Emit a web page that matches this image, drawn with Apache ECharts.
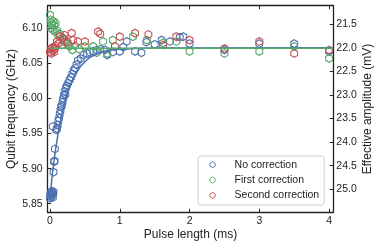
<!DOCTYPE html>
<html><head><meta charset="utf-8">
<script src="https://cdn.jsdelivr.net/npm/echarts@6/dist/echarts.min.js"></script>
<style>html,body{margin:0;padding:0;background:#fff}#c{width:381px;height:248px}</style>
</head><body><div id="c"></div>
<script>
var seriesNames = ['No correction', 'First correction', 'Second correction'];
var xTicks = [0, 1, 2, 3, 4];
var yTicks = [5.85, 5.90, 5.95, 6.00, 6.05, 6.10];
var y2Ticks = [21.5, 22.0, 22.5, 23.0, 23.5, 24.0, 24.5, 25.0];

var noCorrection = [[0.0,5.858],[0.005,5.862],[0.01,5.866],[0.015,5.860],[0.02,5.864],[0.025,5.868],[0.03,5.862],[0.035,5.866],[0.04,5.859],[0.045,5.864],[0.05,5.867],
[0.05,5.895],[0.06,5.91],[0.065,5.911],[0.07,5.928],[0.04,5.96],[0.09,5.955],[0.1,5.957],[0.11,5.962],[0.12,5.968],[0.13,5.972],[0.14,5.978],[0.15,5.983],[0.16,5.988],[0.17,5.99],[0.18,5.995],[0.19,6.0],[0.2,6.004],[0.21,6.01],[0.22,6.006],[0.23,6.015],[0.24,6.018],[0.26,6.022],[0.28,6.026],[0.3,6.03],[0.32,6.035],[0.34,6.04],[0.36,6.043],[0.38,6.048],[0.4,6.054],[0.44,6.057],[0.48,6.062],[0.53,6.064],[0.57,6.066],[0.62,6.067],[0.67,6.069],[0.72,6.07],[0.79,6.069],[0.82,6.062],[0.9,6.066],[1.0,6.067],[1.05,6.073],[1.1,6.081],[1.22,6.067],[1.31,6.065],[1.38,6.08],[1.5,6.077],[1.6,6.083],[1.72,6.081],[1.86,6.087],[1.91,6.088],[2.0,6.078],[2.5,6.069],[3.0,6.078],[3.5,6.078],[4.0,6.067]];
var firstCorrection = [[0.0,6.119],[0.01,6.112],[0.02,6.108],[0.02,6.100],[0.03,6.105],[0.04,6.098],[0.05,6.110],[0.06,6.104],[0.07,6.095],[0.08,6.107],[0.1,6.097],[0.12,6.09],[0.14,6.092],[0.17,6.086],[0.2,6.083],[0.22,6.08],[0.25,6.078],[0.28,6.074],[0.32,6.069],[0.36,6.075],[0.42,6.07],[0.5,6.074],[0.62,6.074],[0.67,6.065],[0.76,6.081],[0.82,6.064],[0.9,6.083],[1.19,6.088],[1.39,6.083],[1.62,6.079],[1.81,6.081],[2.0,6.067],[2.5,6.064],[3.0,6.067],[3.5,6.074],[4.0,6.057]];
var secondCorrection = [[0.0,6.066],[0.01,6.07],[0.02,6.064],[0.03,6.072],[0.04,6.068],[0.05,6.073],[0.06,6.066],[0.07,6.071],[0.08,6.075],[0.1,6.081],[0.12,6.078],[0.14,6.088],[0.17,6.076],[0.19,6.086],[0.21,6.09],[0.25,6.08],[0.31,6.093],[0.33,6.083],[0.4,6.081],[0.5,6.081],[0.69,6.095],[0.72,6.092],[0.93,6.074],[1.0,6.088],[1.22,6.093],[1.41,6.091],[1.62,6.076],[1.81,6.088],[2.0,6.083],[2.5,6.071],[3.0,6.081],[3.5,6.064],[4.0,6.069]];
var noCorrectionFit = [[0,5.855],[0.025,5.884],[0.05,5.905],[0.075,5.924],[0.1,5.940],[0.15,5.968],[0.2,5.990],[0.25,6.008],[0.3,6.021],[0.4,6.040],[0.5,6.052],[0.6,6.060],[0.8,6.067],[1.0,6.070],[1.5,6.0718],[4.06,6.072]];
var firstCorrectionFit = [[0,6.0715],[4.06,6.0715]];

var colors = ['#4C72B0', '#55A868', '#C44E52'];
var hex = 'path://M0,-1 L0.866,-0.5 L0.866,0.5 L0,1 L-0.866,0.5 L-0.866,-0.5 Z';
var font = 'Liberation Sans';
var axisCol = '#222';

function scatter(name, data, color) {
  return {
    name: name, type: 'scatter', data: data, symbol: hex, symbolSize: [6.8, 7.8],
    itemStyle: { color: 'rgba(255,255,255,0)', borderColor: color, borderWidth: 1.1, opacity: 1 },
    z: 2
  };
}

var chart = echarts.init(document.getElementById('c'));
chart.setOption({
  animation: false,
  grid: { left: 47.7, right: 47.7, top: 5.7, bottom: 35.7, containLabel: false, outerBoundsMode: 'none' },
  xAxis: [{
    type: 'value', min: -0.033, max: 4.06, position: 'bottom',
    name: 'Pulse length (ms)', nameLocation: 'middle', nameGap: 16, nameMoveOverlap: false,
    nameTextStyle: { fontFamily: font, fontSize: 12, color: axisCol },
    axisLine: { show: true, onZero: false, lineStyle: { color: axisCol, width: 1.3 } },
    axisTick: { show: true, inside: true, length: 3.5, customValues: xTicks, lineStyle: { color: axisCol } },
    axisLabel: { customValues: xTicks, margin: 3, fontFamily: font, fontSize: 10.5, color: axisCol },
    splitLine: { show: false }
  }, {
    type: 'value', min: -0.033, max: 4.06, position: 'top',
    axisLine: { show: true, onZero: false, lineStyle: { color: axisCol, width: 1.3 } },
    axisTick: { show: true, inside: true, length: 3.5, customValues: xTicks, lineStyle: { color: axisCol } },
    axisLabel: { show: false },
    splitLine: { show: false }
  }],
  yAxis: [{
    type: 'value', min: 5.8378, max: 6.132, position: 'left',
    name: 'Qubit frequency (GHz)', nameLocation: 'middle', nameGap: 30, nameRotate: 90, nameMoveOverlap: false,
    nameTextStyle: { fontFamily: font, fontSize: 12, color: axisCol },
    axisLine: { show: true, onZero: false, lineStyle: { color: axisCol, width: 1.3 } },
    axisTick: { show: true, inside: true, length: 3.5, customValues: yTicks, lineStyle: { color: axisCol } },
    axisLabel: { customValues: yTicks, margin: 5, fontFamily: font, fontSize: 10.5, color: axisCol,
      formatter: function (v) { return v.toFixed(2); } },
    splitLine: { show: false }
  }, {
    type: 'value', min: 21.106, max: 25.49, inverse: true, position: 'right',
    name: 'Effective amplitude (mV)', nameLocation: 'middle', nameGap: 28, nameRotate: 90, nameMoveOverlap: false,
    nameTextStyle: { fontFamily: font, fontSize: 12, color: axisCol },
    axisLine: { show: true, onZero: false, lineStyle: { color: axisCol, width: 1.3 } },
    axisTick: { show: true, inside: true, length: 3.5, customValues: y2Ticks, lineStyle: { color: axisCol } },
    axisLabel: { customValues: y2Ticks, margin: 3, fontFamily: font, fontSize: 10.5, color: axisCol,
      formatter: function (v) { return v.toFixed(1); } },
    splitLine: { show: false }
  }],
  legend: {
    orient: 'vertical', left: 198, top: 156,
    data: seriesNames,
    itemWidth: 7, itemHeight: 6, itemGap: 3.3,
    padding: [2.7, 5, 3.7, 11.5],
    itemStyle: { borderWidth: 0.9 },
    backgroundColor: 'rgba(255,255,255,0.85)', borderColor: '#d0d0d0', borderWidth: 1, borderRadius: 3,
    textStyle: { fontFamily: font, fontSize: 10.5, color: axisCol, lineHeight: 12, padding: [0, 0, 0, 13.5] }
  },
  series: [
    scatter(seriesNames[0], noCorrection, colors[0]),
    scatter(seriesNames[1], firstCorrection, colors[1]),
    scatter(seriesNames[2], secondCorrection, colors[2]),
    { type: 'line', data: noCorrectionFit, showSymbol: false, smooth: true, lineStyle: { color: colors[0], width: 1.5 }, z: 3, silent: true },
    { type: 'line', data: firstCorrectionFit, showSymbol: false, lineStyle: { color: colors[1], width: 1.5 }, z: 4, silent: true }
  ]
});
</script></body></html>
